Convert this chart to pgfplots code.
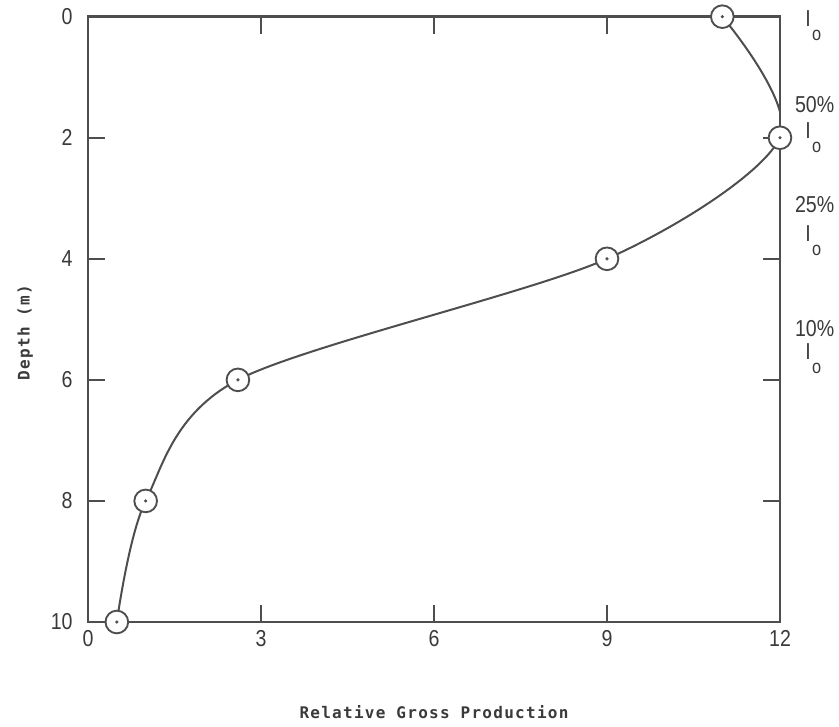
\documentclass[border=0pt]{standalone}
\usepackage{fontspec}
\setmainfont{Liberation Sans}[FakeStretch=0.85]
\newfontfamily\labelfont{DejaVu Sans Mono}[LetterSpace=8]
\usepackage{pgfplots}
\usepackage{pgfplotstable}
\pgfplotsset{compat=1.18}
\definecolor{ink}{HTML}{4E4E4E}
\definecolor{txt}{HTML}{3A3A3A}

% relative gross production vs depth
\pgfplotstableread{
x y
11.0 0
12.0 2
9.0 4
2.6 6
1.0 8
0.5 10
}\prodtable

\newcommand{\Io}{I\kern1pt\raisebox{-1.2ex}{\Large o}}

\begin{document}
\begin{tikzpicture}[x=1pt,y=1pt]
\path[use as bounding box] (-66,-78.75) rectangle (563.25,466.5);
\begin{axis}[
    scale only axis,
    width=519pt, height=454pt,
    xmin=0, xmax=12, ymin=0, ymax=10,
    y dir=reverse,
    clip mode=individual,
    xtick={0,3,6,9,12},
    ytick={0,2,4,6,8,10},
    tick pos=both,
    xticklabel pos=left,
    yticklabel pos=left,
    tick align=inside,
    major tick length=13pt,
    axis line style={ink, line width=2.2pt},
    every tick/.style={ink, line width=1.8pt},
    ticklabel style={font=\LARGE, text=txt},
    xticklabel style={yshift=-3pt},
    yticklabel style={xshift=-8pt},
    /pgf/number format/assume math mode=true,
]
\addplot[ink, line width=1.5pt, smooth, mark=*,
    mark options={draw=ink, fill=white, line width=1.4pt}, mark size=8.5pt]
    table[x=x, y=y] {\prodtable};
\addplot[only marks, mark=*, mark size=1pt, ink] table[x=x, y=y] {\prodtable};

\begin{scope}[every node/.style={font=\LARGE, text=txt, anchor=center}]
\node at ([xshift=25pt]axis cs:12,0.15) {\Io};
\node at ([xshift=26pt]axis cs:12,1.45) {50\%};
\node at ([xshift=25pt]axis cs:12,2.0) {\Io};
\node at ([xshift=26pt]axis cs:12,3.1) {25\%};
\node at ([xshift=25pt]axis cs:12,3.7) {\Io};
\node at ([xshift=26pt]axis cs:12,5.15) {10\%};
\node at ([xshift=25pt]axis cs:12,5.65) {\Io};
\end{scope}
\end{axis}
\node[text=txt, font=\labelfont\bfseries\large] at ([yshift=-67.5pt]current axis.south) {Relative Gross Production};
\node[text=txt, font=\labelfont\bfseries\large, rotate=90] at ([xshift=-47pt, yshift=-10pt]current axis.west) {Depth (m)};
\end{tikzpicture}
\end{document}
